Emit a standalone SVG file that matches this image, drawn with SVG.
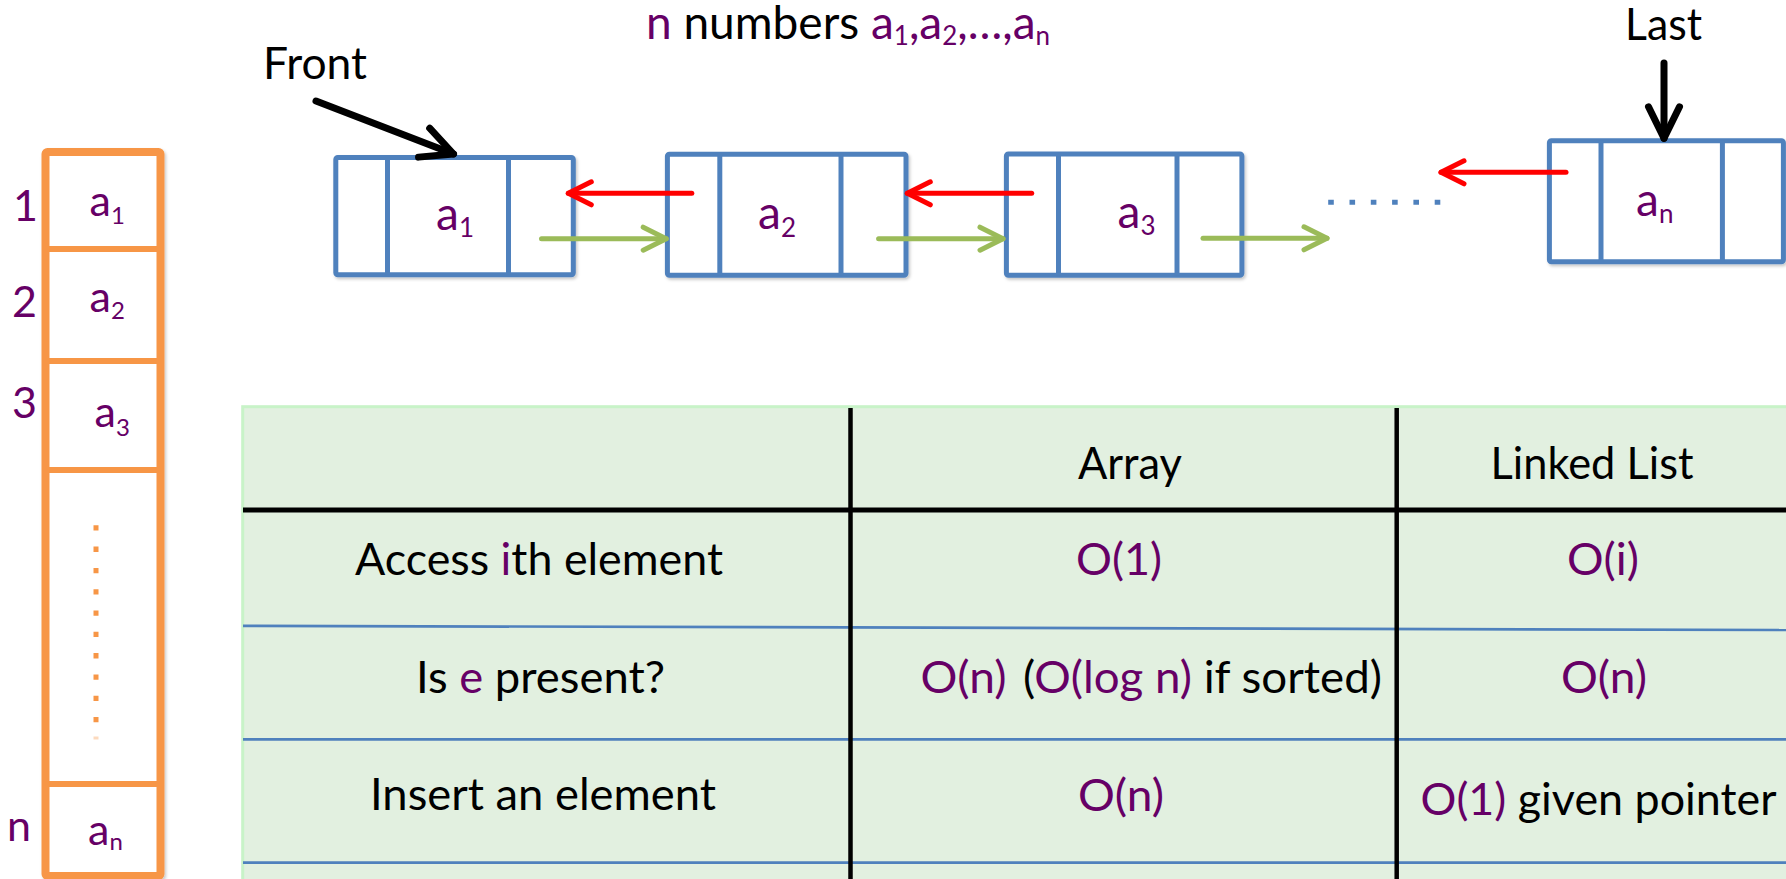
<svg xmlns="http://www.w3.org/2000/svg" width="1786" height="879" viewBox="0 0 1786 879">
<style>
text{font-family:Lato,"Open Sans","Liberation Sans",sans-serif;}
.t{font-size:44px;fill:#000;}
.p{fill:#660066;}
.k{fill:#000;}
.val{font-size:46px;fill:#660066;}
.sub{font-size:26px;}
.aval{font-size:43px;fill:#660066;}
.asub{font-size:24px;}
.idx{font-size:43px;fill:#660066;}
.node{fill:#fff;stroke:#4F81BD;stroke-width:5;stroke-linejoin:round;}
.div{stroke:#4F81BD;stroke-width:5;}
.arr{fill:#fff;stroke:#F79646;stroke-width:8;stroke-linejoin:round;}
.adiv{stroke:#F79646;stroke-width:6;}
.red{stroke:#FF0000;stroke-width:5;stroke-linecap:round;fill:none;}
.grn{stroke:#9BBB59;stroke-width:5;stroke-linecap:round;fill:none;}
.blk{stroke:#000;stroke-width:7;stroke-linecap:round;fill:none;}
.vline{stroke:#000;stroke-width:4.5;}
.hline{stroke:#000;stroke-width:5;}
.bline{stroke:#4F81BD;stroke-width:2.7;}
</style>
<defs>
<filter id="sh" x="-10%" y="-10%" width="130%" height="130%"><feDropShadow dx="1.5" dy="2" stdDeviation="1.5" flood-color="#000" flood-opacity="0.22"/></filter>
<marker id="mr" markerUnits="userSpaceOnUse" viewBox="-30 -16 34 32" refX="0" refY="0" markerWidth="34" markerHeight="32" orient="auto" overflow="visible"><path d="M-23,-11.5 L0,0 L-23,11.5" fill="none" stroke="#FF0000" stroke-width="5" stroke-linecap="round" stroke-linejoin="round"/></marker>
<marker id="mg" markerUnits="userSpaceOnUse" viewBox="-30 -16 34 32" refX="0" refY="0" markerWidth="34" markerHeight="32" orient="auto" overflow="visible"><path d="M-23,-11.5 L0,0 L-23,11.5" fill="none" stroke="#9BBB59" stroke-width="5" stroke-linecap="round" stroke-linejoin="round"/></marker>
<marker id="mb" markerUnits="userSpaceOnUse" viewBox="-40 -20 44 40" refX="0" refY="0" markerWidth="44" markerHeight="40" orient="auto" overflow="visible"><path d="M-31.5,-15.5 L0,0 L-31.5,15.5" fill="none" stroke="#000" stroke-width="7" stroke-linecap="round" stroke-linejoin="round"/></marker>
</defs>
<rect width="1786" height="879" fill="#fff"/>

<g id="table">
<rect x="242.7" y="406.7" width="1546" height="476" fill="#E2F0E0" stroke="#C8F3C8" stroke-width="3"/>
<line class="bline" x1="243" y1="625.8" x2="1786" y2="630"/>
<line class="bline" x1="243" y1="739.3" x2="1786" y2="739.3"/>
<line class="bline" x1="243" y1="862.7" x2="1786" y2="862.7"/>
<line class="hline" x1="243" y1="510" x2="1786" y2="510"/>
<line class="vline" x1="850.5" y1="408" x2="850.5" y2="879"/>
<line class="vline" x1="1396.7" y1="408" x2="1396.7" y2="879"/>
<text class="t" x="1078" y="479.3" textLength="104" lengthAdjust="spacingAndGlyphs">Array</text>
<text class="t" x="1490.5" y="479.3" textLength="203" lengthAdjust="spacingAndGlyphs">Linked List</text>
<text class="t" x="355" y="575" textLength="368" lengthAdjust="spacingAndGlyphs">Access <tspan class="p">i</tspan>th element</text>
<text class="t p" x="1076" y="575" textLength="86" lengthAdjust="spacingAndGlyphs">O(1)</text>
<text class="t p" x="1567" y="575" textLength="72" lengthAdjust="spacingAndGlyphs">O(i)</text>
<text class="t" x="416" y="693.3" textLength="249" lengthAdjust="spacingAndGlyphs">Is <tspan class="p">e</tspan> present?</text>
<text class="t p" x="920.5" y="693" textLength="86" lengthAdjust="spacingAndGlyphs">O(n)</text>
<text class="t" x="1023" y="693" textLength="359" lengthAdjust="spacingAndGlyphs">(<tspan class="p">O(log n)</tspan> if sorted)</text>
<text class="t p" x="1561" y="693" textLength="86" lengthAdjust="spacingAndGlyphs">O(n)</text>
<text class="t" x="370" y="810" textLength="346" lengthAdjust="spacingAndGlyphs">Insert an element</text>
<text class="t p" x="1078" y="811" textLength="86" lengthAdjust="spacingAndGlyphs">O(n)</text>
<text class="t" x="1420.5" y="815" textLength="356" lengthAdjust="spacingAndGlyphs"><tspan class="p">O(1)</tspan> given pointer</text>
</g>

<g id="array">
<rect class="arr" x="45.5" y="152" width="115" height="724" rx="2" filter="url(#sh)"/>
<line class="adiv" x1="45.5" y1="249" x2="160.5" y2="249"/>
<line class="adiv" x1="45.5" y1="361" x2="160.5" y2="361"/>
<line class="adiv" x1="45.5" y1="470" x2="160.5" y2="470"/>
<line class="adiv" x1="45.5" y1="784" x2="160.5" y2="784"/>
<line x1="96" y1="525.3" x2="96" y2="722.5" stroke="#F79646" stroke-width="5" stroke-dasharray="5.3 16"/>
<rect x="93.5" y="736.5" width="5" height="3" fill="#F79646" opacity="0.35"/>
<text class="idx" x="13" y="221">1</text>
<text class="idx" x="12" y="317">2</text>
<text class="idx" x="12" y="418">3</text>
<text class="idx" x="7" y="841">n</text>
<text class="aval" x="89.5" y="216">a<tspan class="asub" dy="8">1</tspan></text>
<text class="aval" x="89.5" y="311.7">a<tspan class="asub" dy="7.6">2</tspan></text>
<text class="aval" x="94.5" y="427.4">a<tspan class="asub" dy="9">3</tspan></text>
<text class="aval" x="88" y="844.7">a<tspan class="asub" dy="5.3">n</tspan></text>
</g>

<g id="node-a1">
<rect class="node" x="335.8" y="157.5" width="237.5" height="117.3" rx="2" filter="url(#sh)"/>
<line class="div" x1="387.5" y1="157.5" x2="387.5" y2="274.8"/>
<line class="div" x1="508.5" y1="157.5" x2="508.5" y2="274.8"/>
<text class="val" x="436" y="230">a<tspan class="sub" dy="7.3">1</tspan></text>
</g>
<g id="node-a2">
<rect class="node" x="667.4" y="154.2" width="238.6" height="121.1" rx="2" filter="url(#sh)"/>
<line class="div" x1="719.8" y1="154.2" x2="719.8" y2="275.3"/>
<line class="div" x1="841" y1="154.2" x2="841" y2="275.3"/>
<text class="val" x="758" y="229.3">a<tspan class="sub" dy="8">2</tspan></text>
</g>
<g id="node-a3">
<rect class="node" x="1006.4" y="154" width="235.5" height="121.3" rx="2" filter="url(#sh)"/>
<line class="div" x1="1058.5" y1="154" x2="1058.5" y2="275.3"/>
<line class="div" x1="1177" y1="154" x2="1177" y2="275.3"/>
<text class="val" x="1117.5" y="228.3">a<tspan class="sub" dy="6.7">3</tspan></text>
</g>
<g id="node-an">
<rect class="node" x="1549.4" y="140.7" width="234" height="121" rx="2" filter="url(#sh)"/>
<line class="div" x1="1601" y1="140.7" x2="1601" y2="261.7"/>
<line class="div" x1="1722.4" y1="140.7" x2="1722.4" y2="261.7"/>
<text class="val" x="1636" y="216">a<tspan class="sub" dy="6.7">n</tspan></text>
</g>

<g id="labels">
<text class="t" x="263" y="79" textLength="104" lengthAdjust="spacingAndGlyphs">Front</text>
<text class="t" x="1625" y="40" textLength="77" lengthAdjust="spacingAndGlyphs">Last</text>
<text id="title" x="646" y="39.3" style="font-size:46px" class="k"><tspan class="p">n</tspan> numbers <tspan class="p">a</tspan><tspan class="p" style="font-size:26px" dy="6">1</tspan><tspan class="p" dy="-6">,a</tspan><tspan class="p" style="font-size:26px" dy="6">2</tspan><tspan class="p" dy="-6">,…,a</tspan><tspan class="p" style="font-size:26px" dy="6">n</tspan></text>
</g>

<g id="connectors">
<line class="blk" x1="316" y1="101" x2="453.5" y2="154" marker-end="url(#mb)"/>
<line class="blk" x1="1664" y1="63" x2="1664" y2="138.3" marker-end="url(#mb)"/>
<line class="red" x1="691.8" y1="193.3" x2="568.3" y2="193.3" marker-end="url(#mr)"/>
<line class="red" x1="1031.7" y1="193.3" x2="907.3" y2="193.3" marker-end="url(#mr)"/>
<line class="red" x1="1566" y1="172.3" x2="1441" y2="172.3" marker-end="url(#mr)"/>
<line class="grn" x1="541.5" y1="238.7" x2="666.2" y2="238.7" marker-end="url(#mg)"/>
<line class="grn" x1="878.6" y1="238.7" x2="1003" y2="238.7" marker-end="url(#mg)"/>
<line class="grn" x1="1203" y1="238.3" x2="1327" y2="238.3" marker-end="url(#mg)"/>
<line x1="1328.2" y1="202.3" x2="1441" y2="202.3" stroke="#4F81BD" stroke-width="5" stroke-dasharray="5.6 15.7"/>
</g>
</svg>
